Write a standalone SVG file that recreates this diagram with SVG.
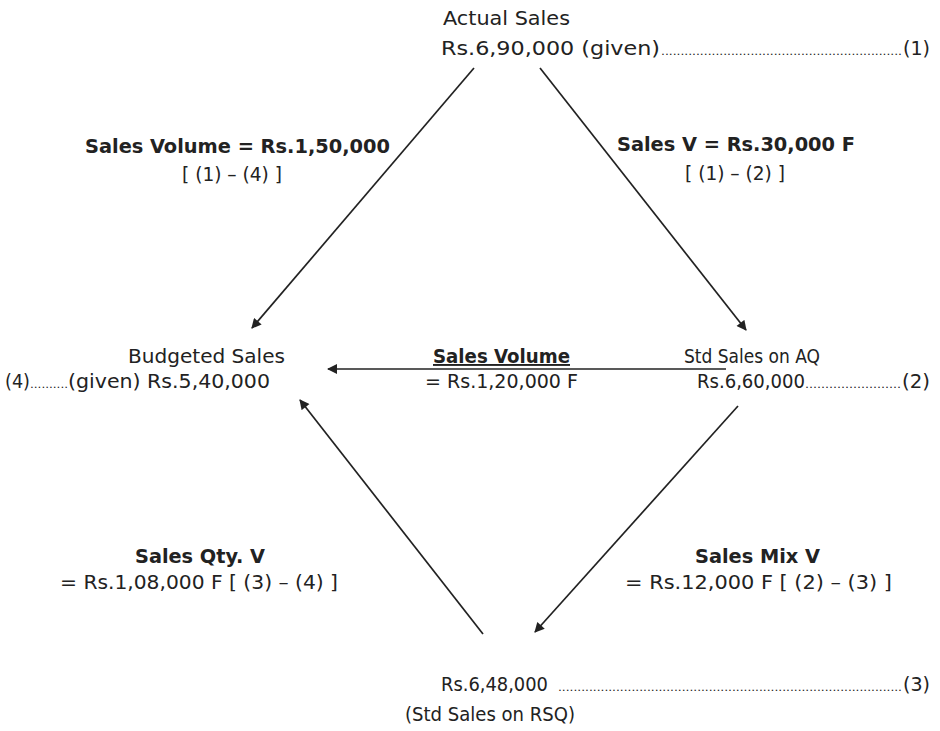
<svg xmlns="http://www.w3.org/2000/svg" width="940" height="731" viewBox="0 0 940 731">
<style>
text{font-family:"DejaVu Sans Condensed","DejaVu Sans","Open Sans",sans-serif;font-size:19px;fill:#222}
.b{font-weight:bold}
.d{font-size:10px}
.c{stroke:#222;stroke-width:1.7;fill:none}
</style>
<defs>
<marker id="ah" viewBox="0 0 10 10" refX="9" refY="5" markerWidth="11" markerHeight="10" markerUnits="userSpaceOnUse" orient="auto"><path d="M0,0 L10,5 L0,10 z" fill="#222"/></marker>
</defs>
<rect width="940" height="731" fill="#fff"/>
<g id="connectors">
<line class="c" x1="474" y1="68" x2="252" y2="328" marker-end="url(#ah)"/>
<line class="c" x1="540" y1="68" x2="746" y2="330" marker-end="url(#ah)"/>
<line class="c" x1="726" y1="369" x2="328" y2="369" marker-end="url(#ah)"/>
<line class="c" x1="738" y1="406" x2="535" y2="632" marker-end="url(#ah)"/>
<line class="c" x1="483" y1="634" x2="300" y2="400" marker-end="url(#ah)"/>
</g>
<g id="actual">
<text x="443" y="25" textLength="127" lengthAdjust="spacingAndGlyphs">Actual Sales</text>
<text x="441" y="55" textLength="219" lengthAdjust="spacingAndGlyphs">Rs.6,90,000 (given)</text>
<text class="d" x="661" y="55" textLength="241" lengthAdjust="spacingAndGlyphs">..............................................................</text>
<text x="903" y="55" textLength="27" lengthAdjust="spacingAndGlyphs">(1)</text>
</g>
<g id="budgeted">
<text x="128" y="363" textLength="157" lengthAdjust="spacingAndGlyphs">Budgeted Sales</text>
<text x="5" y="388" textLength="25" lengthAdjust="spacingAndGlyphs">(4)</text>
<text class="d" x="30" y="388" textLength="38" lengthAdjust="spacingAndGlyphs">..........</text>
<text x="68" y="388" textLength="202" lengthAdjust="spacingAndGlyphs">(given) Rs.5,40,000</text>
</g>
<g id="stdaq">
<text x="684" y="363" textLength="136" lengthAdjust="spacingAndGlyphs">Std Sales on AQ</text>
<text x="697" y="388" textLength="108" lengthAdjust="spacingAndGlyphs">Rs.6,60,000</text>
<text class="d" x="805" y="388" textLength="96" lengthAdjust="spacingAndGlyphs">........................</text>
<text x="902" y="388" textLength="28" lengthAdjust="spacingAndGlyphs">(2)</text>
</g>
<g id="rsq">
<text x="441" y="691" textLength="107" lengthAdjust="spacingAndGlyphs">Rs.6,48,000</text>
<text class="d" x="558" y="691" textLength="344" lengthAdjust="spacingAndGlyphs">.........................................................................................</text>
<text x="903" y="691" textLength="27" lengthAdjust="spacingAndGlyphs">(3)</text>
<text x="405" y="721" textLength="170" lengthAdjust="spacingAndGlyphs">(Std Sales on RSQ)</text>
</g>
<g id="labels">
<text class="b" x="85" y="153" textLength="305" lengthAdjust="spacingAndGlyphs">Sales Volume = Rs.1,50,000</text>
<text x="232" y="181" text-anchor="middle" textLength="100" lengthAdjust="spacingAndGlyphs">[ (1) – (4) ]</text>
<text class="b" x="617" y="151" textLength="238" lengthAdjust="spacingAndGlyphs">Sales V = Rs.30,000 F</text>
<text x="735" y="180" text-anchor="middle" textLength="100" lengthAdjust="spacingAndGlyphs">[ (1) – (2) ]</text>
<text class="b" x="433" y="363" textLength="137" lengthAdjust="spacingAndGlyphs" text-decoration="underline">Sales Volume</text>
<text x="425" y="388" textLength="153" lengthAdjust="spacingAndGlyphs">= Rs.1,20,000 F</text>
<text class="b" x="135" y="563" textLength="130" lengthAdjust="spacingAndGlyphs">Sales Qty. V</text>
<text x="60" y="589" textLength="278" lengthAdjust="spacingAndGlyphs">= Rs.1,08,000 F [ (3) – (4) ]</text>
<text class="b" x="695" y="563" textLength="125" lengthAdjust="spacingAndGlyphs">Sales Mix V</text>
<text x="625" y="589" textLength="267" lengthAdjust="spacingAndGlyphs">= Rs.12,000 F [ (2) – (3) ]</text>
</g>
</svg>
